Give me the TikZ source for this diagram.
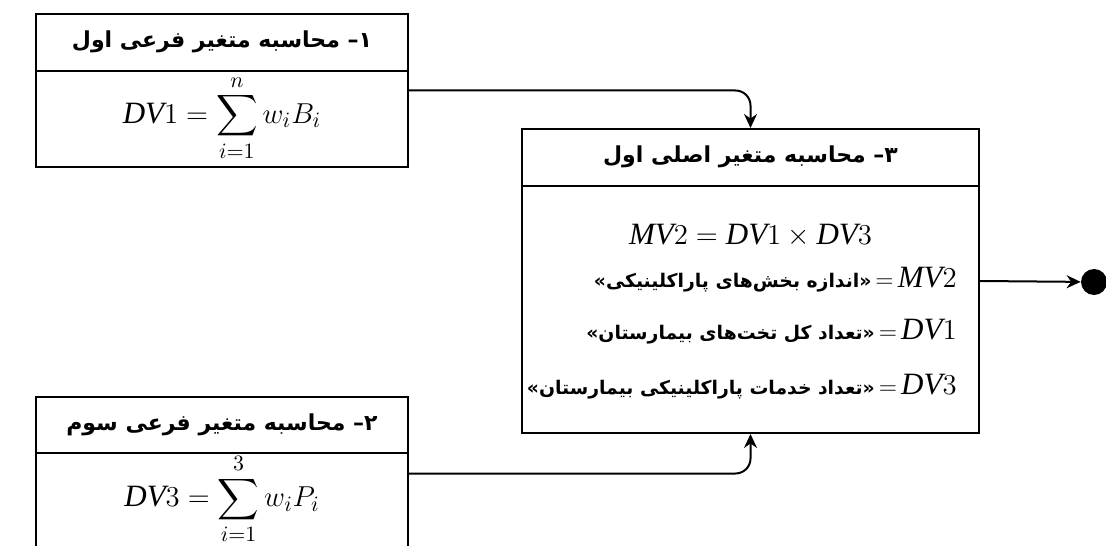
\documentclass[tikz,border=0pt]{standalone}
\usepackage{amsmath}
\usepackage{fontspec}
\setmainfont{Liberation Serif}
\usetikzlibrary{arrows.meta}
\TeXXeTstate=1
\newfontfamily\farsi[Script=Arabic]{DejaVu Sans}
\newcommand{\fa}[1]{{\farsi\bfseries\beginR #1\endR}}
\newcommand{\vv}[2]{{\fontsize{11.5}{14}\selectfont$\,=\,$}{\fontsize{15.5}{18}\selectfont$\mathit{#1}#2$}}

\tikzset{
  box/.style={draw, line width=1pt, inner sep=0pt},
  hdr/.style={font=\fontsize{11}{13}\selectfont, inner sep=0pt},
  eqn/.style={font=\fontsize{15.5}{18}\selectfont, inner sep=0pt},
  def/.style={font=\fontsize{9.4}{12}\selectfont, anchor=east, inner sep=0pt},
  conn/.style={line width=1pt, rounded corners=7.5pt, -{Stealth[length=7pt,width=6.5pt]}},
}

\begin{document}
\begin{tikzpicture}[x=0.5pt,y=-0.5pt]
    \useasboundingbox (0,0) rectangle (1106,545);

    \node[box, minimum width=186pt, minimum height=76.5pt] (s1) at (222,90.5) {};
    \node[box, minimum width=186pt, minimum height=76.5pt] (s3) at (222,473.5) {};
    \node[box, minimum width=228.5pt, minimum height=152pt] (m2) at (750.5,281) {};
    \node[circle, fill=black, inner sep=0pt, minimum size=13pt] (dot) at (1094,282) {};

    % header lines
    \draw[line width=1pt] (s1.west |- 0,71) -- (s1.east |- 0,71);
    \draw[line width=1pt] (s3.west |- 0,453) -- (s3.east |- 0,453);
    \draw[line width=1pt] (m2.west |- 0,186) -- (m2.east |- 0,186);

    \node[hdr] (h1) at (222,42) {\fa{۱– محاسبه متغیر فرعی اول}};
    \node[eqn] (f1) at (222,118) {$\displaystyle \mathit{DV}1=\sum_{i=1}^{n} w_i B_i$};

    \node[hdr] (h3) at (222,425) {\fa{۲– محاسبه متغیر فرعی سوم}};
    \node[eqn] (f3) at (222,499) {$\displaystyle \mathit{DV}3=\sum_{i=1}^{3} w_i P_i$};

    \node[hdr] (h2) at (750.5,157) {\fa{۳– محاسبه متغیر اصلی اول}};
    \node[eqn] (f2) at (750.5,236) {$\mathit{MV}2=\mathit{DV}1\times \mathit{DV}3$};
    \node[def] (d1) at (957,280) {\fa{«اندازه بخش‌های پاراکلینیکی»}\vv{MV}{2}};
    \node[def] (d2) at (957,332) {\fa{«تعداد کل تخت‌های بیمارستان»}\vv{DV}{1}};
    \node[def] (d3) at (957,387) {\fa{«تعداد خدمات پاراکلینیکی بیمارستان»}\vv{DV}{3}};

    \draw[conn] (s1.east) -| (m2.north);
    \draw[conn] (s3.east) -| (m2.south);
    \draw[conn] (m2.east) -- (dot);

\end{tikzpicture}
\end{document}
